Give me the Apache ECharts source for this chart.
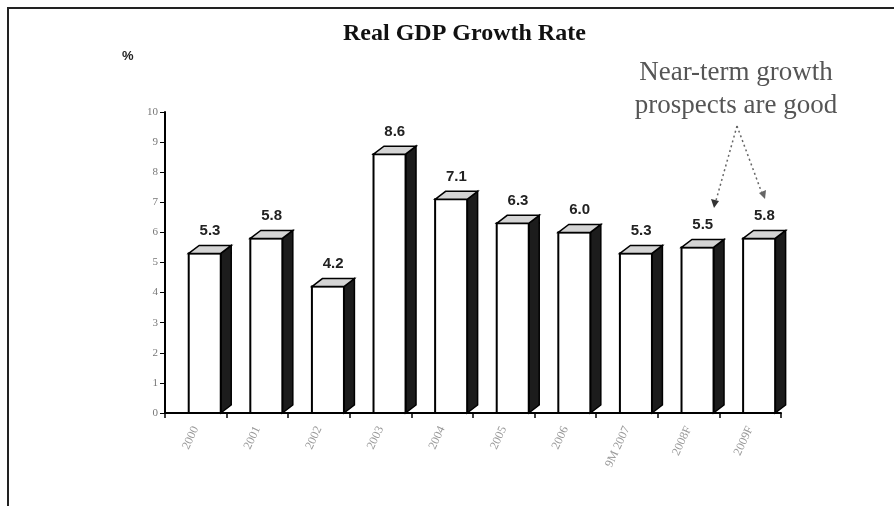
<!DOCTYPE html>
<html>
<head>
<meta charset="utf-8">
<script src="https://cdn.jsdelivr.net/npm/echarts@6/dist/echarts.min.js"></script>
<style>
  html, body { margin: 0; padding: 0; background: #fff; }
  #chart { width: 894px; height: 506px; }
</style>
</head>
<body>
<div id="chart"></div>
<script>
// chart data
const years = ['2000', '2001', '2002', '2003', '2004', '2005', '2006', '9M 2007', '2008F', '2009F']
const growth = [5.3, 5.8, 4.2, 8.6, 7.1, 6.3, 6.0, 5.3, 5.5, 5.8]
const yTicks = [0, 10, 1] // min, max, interval

const chart = echarts.init(document.getElementById('chart'))

// 3D-looking box: white front, dark side, light top
function renderBox(params, api) {
  const top = api.coord([api.value(0), api.value(1)])
  const base = api.coord([api.value(0), 0])
  const band = api.size([1, 0])[0]
  const w = band * 0.52
  const dx = band * 0.17
  const dy = 8
  const x0 = top[0] - band * 0.115
  const x1 = x0 + w
  return {
    type: 'group',
    children: [
      {
        type: 'polygon',
        shape: { points: [[x1, top[1]], [x1 + dx, top[1] - dy], [x1 + dx, base[1] - dy], [x1, base[1]]] },
        style: { fill: '#1c1c1c', stroke: '#000', lineWidth: 1.5 }
      },
      {
        type: 'rect',
        shape: { x: x0, y: top[1], width: w, height: base[1] - top[1] },
        style: { fill: '#fff', stroke: '#000', lineWidth: 2 }
      },
      {
        type: 'polygon',
        shape: { points: [[x0, top[1]], [x0 + dx, top[1] - dy], [x1 + dx, top[1] - dy], [x1, top[1]]] },
        style: { fill: '#d4d4d4', stroke: '#000', lineWidth: 1.5 }
      },
      {
        type: 'text',
        style: {
          x: x0 + (w + dx) / 2,
          y: top[1] - dy - 7,
          text: api.value(1).toFixed(1),
          align: 'center',
          verticalAlign: 'bottom',
          font: 'bold 15px "Liberation Sans", Arial, sans-serif',
          fill: '#222'
        }
      }
    ]
  }
}

const option = {
  animation: false,
  backgroundColor: '#fff',
  title: {
    text: 'Real GDP Growth Rate',
    left: 338,
    top: 17,
    textStyle: {
      fontFamily: '"Liberation Serif", "Times New Roman", serif',
      fontWeight: 'bold',
      fontSize: 24,
      color: '#111'
    }
  },
  grid: {
    left: 165,
    right: 113,
    top: 112,
    bottom: 93
  },
  xAxis: {
    type: 'category',
    data: years,
    axisLine: { lineStyle: { color: '#000', width: 2 } },
    axisTick: { show: true, length: 5, lineStyle: { color: '#000', width: 1.5 } },
    axisLabel: {
      rotate: 65,
      fontSize: 12,
      color: '#999',
      margin: 14,
      fontFamily: '"Liberation Serif", "Times New Roman", serif'
    }
  },
  yAxis: {
    type: 'value',
    min: yTicks[0],
    max: yTicks[1],
    interval: yTicks[2],
    axisLine: { show: true, lineStyle: { color: '#000', width: 2 } },
    axisTick: { show: true, length: 5, lineStyle: { color: '#000' } },
    axisLabel: { fontSize: 11, color: '#777', margin: 7, fontFamily: '"Liberation Serif", serif' },
    splitLine: { show: false }
  },
  series: [
    {
      type: 'custom',
      renderItem: renderBox,
      encode: { x: 0, y: 1 },
      data: growth.map((v, i) => [i, v])
    }
  ],
  graphic: [
    {
      type: 'polyline',
      shape: { points: [[8, 506], [8, 8], [894, 8]] },
      style: { stroke: '#222', lineWidth: 2, fill: null }
    },
    {
      type: 'text',
      left: 122,
      top: 50,
      style: { text: '%', font: 'bold 13px "Liberation Sans", Arial, sans-serif', fill: '#222' }
    },
    {
      type: 'text',
      x: 736,
      y: 56,
      style: {
        text: 'Near-term growth\nprospects are good',
        align: 'center',
        font: '27px "Liberation Serif", "Times New Roman", serif',
        lineHeight: 33,
        fill: '#555'
      }
    },
    // dotted pointers to the forecast bars
    {
      type: 'line',
      shape: { x1: 737, y1: 126, x2: 715, y2: 204 },
      style: { stroke: '#666', lineWidth: 1.5, lineDash: [2, 3] }
    },
    {
      type: 'line',
      shape: { x1: 737, y1: 126, x2: 763, y2: 196 },
      style: { stroke: '#666', lineWidth: 1.5, lineDash: [2, 3] }
    },
    {
      type: 'polygon',
      shape: { points: [[711, 199], [719, 201], [714, 208]] },
      style: { fill: '#333' }
    },
    {
      type: 'polygon',
      shape: { points: [[759, 193], [766, 190], [765, 199]] },
      style: { fill: '#666' }
    }
  ]
}

chart.setOption(option)
</script>
</body>
</html>
